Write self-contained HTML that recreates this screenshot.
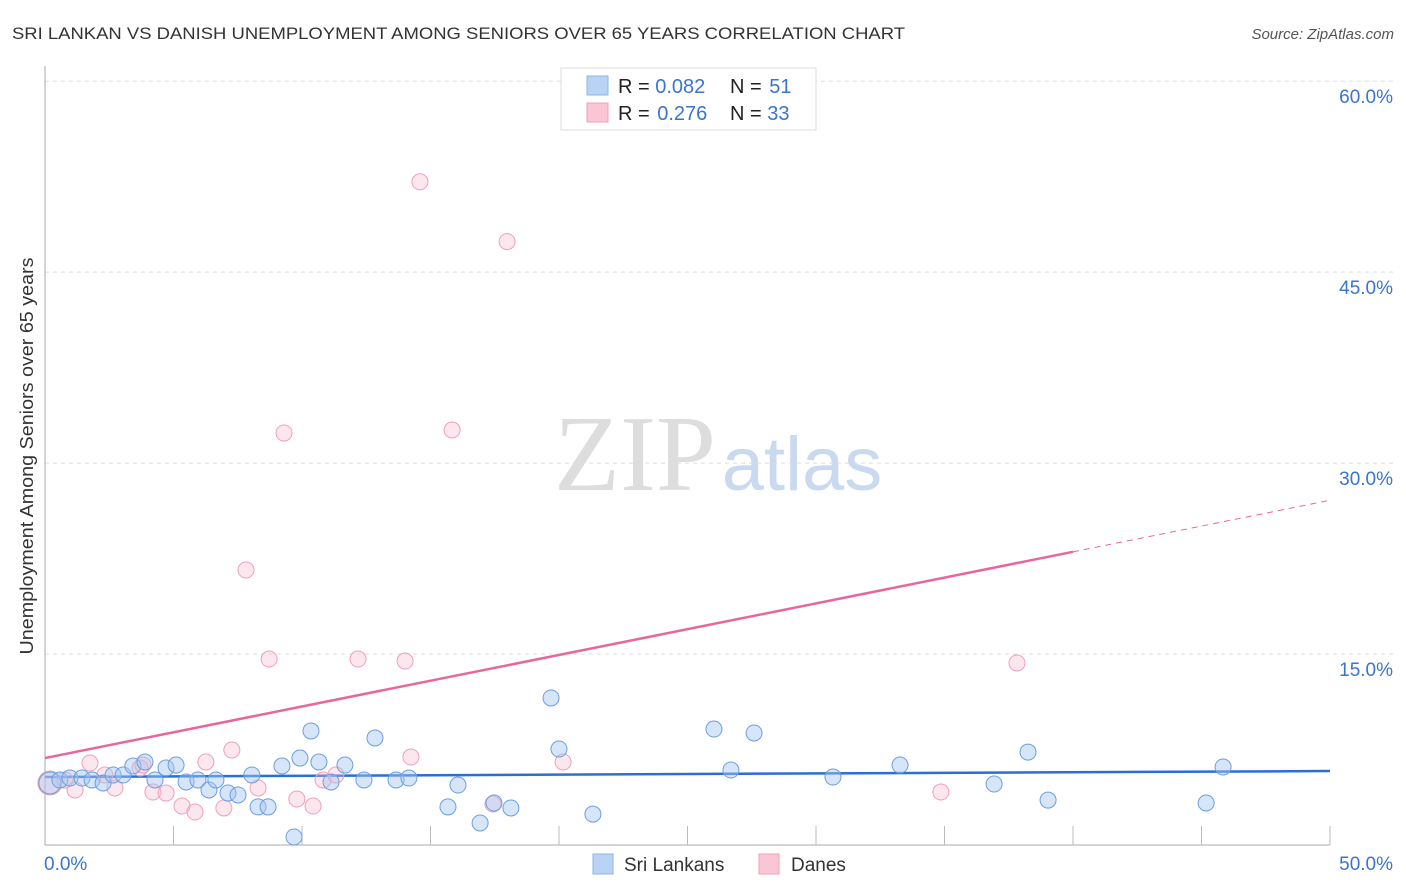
<!DOCTYPE html>
<html><head><meta charset="utf-8"><style>
body{margin:0;background:#fff;font-family:"Liberation Sans",sans-serif}
svg{display:block}
</style></head><body>
<svg id="chart" width="1406" height="892">
<text x="12" y="39" font-size="17" fill="#333" textLength="893" lengthAdjust="spacingAndGlyphs">SRI LANKAN VS DANISH UNEMPLOYMENT AMONG SENIORS OVER 65 YEARS CORRELATION CHART</text>
<text x="1394" y="39" font-size="15" fill="#555" font-style="italic" text-anchor="end">Source: ZipAtlas.com</text>
<text transform="translate(33,456) rotate(-90)" font-size="18" fill="#333" text-anchor="middle" textLength="397" lengthAdjust="spacingAndGlyphs">Unemployment Among Seniors over 65 years</text>
<g><text x="635" y="490" font-size="108" fill="#ddd" font-family="Liberation Serif,serif" text-anchor="middle">ZIP</text><text x="802" y="490" font-size="76" fill="#c9daf0" text-anchor="middle">atlas</text></g>
<g id="grid"></g><g id="axes"></g><g id="trend"></g><g id="pts"></g>
<g>
<rect x="561" y="68" width="255" height="62" fill="#fff" stroke="#ddd"/>
<rect x="587" y="76" width="21" height="19" fill="#b9d3f5" stroke="#8fb4e8"/>
<rect x="587" y="103" width="21" height="19" fill="#fac6d6" stroke="#f0a0ba"/>
<text x="618" y="93" font-size="20" fill="#222">R = <tspan fill="#3a74d0">0.082</tspan></text>
<text x="730" y="93" font-size="20" fill="#222">N = <tspan fill="#3a74d0" dx="2">51</tspan></text>
<text x="618" y="120" font-size="20" fill="#222">R = <tspan fill="#3a74d0" dx="2">0.276</tspan></text>
<text x="730" y="120" font-size="20" fill="#222">N = <tspan fill="#3a74d0">33</tspan></text>
</g>
<g>
<rect x="593" y="854" width="20" height="20" fill="#b9d3f5" stroke="#8fb4e8"/>
<text x="624" y="871" font-size="19" fill="#333">Sri Lankans</text>
<rect x="759" y="854" width="20" height="20" fill="#fac6d6" stroke="#f0a0ba"/>
<text x="791" y="871" font-size="19" fill="#333">Danes</text>
</g>
</svg>
<script>
const yTicks=[15,30,45,60];
const yTickLabels=["15.0%","30.0%","45.0%","60.0%"];
const xTickLabels=["0.0%","50.0%"];
const blueX=[0.19,0.58,0.97,1.44,1.83,2.26,2.65,3.04,3.42,3.89,4.28,4.71,5.1,5.49,5.95,6.38,6.65,7.12,7.51,8.05,8.29,8.68,9.22,9.69,9.92,10.35,10.66,11.13,11.67,12.41,12.84,13.66,14.16,15.68,16.07,16.93,17.47,18.13,19.69,20.0,21.32,26.03,26.69,27.59,30.66,33.27,36.93,38.25,39.03,45.18,45.84];
const blueY=[4.87,5.11,5.26,5.26,5.11,4.87,5.5,5.5,6.21,6.52,5.11,6.05,6.28,4.95,5.11,4.32,5.11,4.08,3.93,5.5,2.99,2.99,6.21,0.63,6.83,8.96,6.52,4.95,6.28,5.11,8.41,5.11,5.26,2.99,4.71,1.73,3.3,2.91,11.55,7.54,2.43,9.11,5.89,8.8,5.34,6.28,4.79,7.3,3.53,3.3,6.13];
const pinkX=[0.19,0.78,1.17,1.75,2.72,3.7,3.81,4.2,4.71,5.33,5.84,6.26,6.96,7.27,7.82,8.29,8.72,9.3,9.8,10.43,10.82,11.32,12.18,14.01,14.24,14.59,15.84,17.43,17.98,20.16,34.86,37.82,2.33];
const pinkY=[4.87,5.11,4.32,6.44,4.48,6.05,6.28,4.16,4.08,3.06,2.59,6.52,2.91,7.46,21.6,4.48,14.61,32.36,3.61,3.06,5.11,5.5,14.61,14.45,6.91,52.1,32.6,3.22,47.4,6.52,4.16,14.3,5.5];
const trendIntercept=[5.34,6.83];
const trendSlope=[0.0094,0.405];
const X0=45,X1=1330,Y0=845,PXX=25.7,PXY=12.73;
const sx=v=>X0+v*PXX, sy=v=>Y0-v*PXY;
const NS="http://www.w3.org/2000/svg";
function mk(p,t,a){const e=document.createElementNS(NS,t);for(const k in a)e.setAttribute(k,a[k]);p.appendChild(e);return e;}
const grid=document.getElementById('grid'),axes=document.getElementById('axes'),trend=document.getElementById('trend'),pts=document.getElementById('pts');
yTicks.forEach((t,i)=>{
 const l=mk(grid,'line',{x1:X0,x2:1394,y1:sy(t),y2:sy(t),stroke:'#ddd','stroke-dasharray':'4,4'});
 
 
 const tx=mk(grid,'text',{x:1393,y:sy(t)+22,'font-size':19,fill:'#3a74d0','text-anchor':'end'});tx.textContent=yTickLabels[i];
 
 
});
const ya=mk(axes,'line',{x1:X0,x2:X0,y1:66,y2:Y0,stroke:'#aaa'});


const xa=mk(axes,'line',{x1:X0,x2:X1,y1:Y0,y2:Y0,stroke:'#aaa'});


for(let i=1;i<=10;i++){const t=mk(axes,'line',{x1:sx(i*5),x2:sx(i*5),y1:Y0-19,y2:Y0,stroke:'#bbb'});
 
 }
const xl0=mk(axes,'text',{x:44,y:870,'font-size':19,fill:'#3a74d0'});xl0.textContent=xTickLabels[0];


const xl1=mk(axes,'text',{x:1393,y:870,'font-size':19,fill:'#3a74d0','text-anchor':'end'});xl1.textContent=xTickLabels[1];


function dot(x,y,fill,stroke,name,r){const c=mk(pts,'circle',{cx:sx(x),cy:sy(y),r:r||8,fill:fill,stroke:stroke,'stroke-width':1});
 
 }
pinkX.forEach((x,i)=>dot(x,pinkY[i],'rgba(248,185,205,0.35)','#f0a0ba','dane-point',i==0?12:8));
blueX.forEach((x,i)=>dot(x,blueY[i],'rgba(165,198,240,0.45)','#6b9fe0','sri-lankan-point',i==0?11:8));
const bt=mk(trend,'line',{x1:sx(0),y1:sy(trendIntercept[0]),x2:sx(50),y2:sy(trendIntercept[0]+50*trendSlope[0]),stroke:'#2a6fd4','stroke-width':2.5});


const pt=mk(trend,'line',{x1:sx(0),y1:sy(trendIntercept[1]),x2:sx(40),y2:sy(trendIntercept[1]+40*trendSlope[1]),stroke:'#e8679a','stroke-width':2.5});


const pd=mk(trend,'line',{x1:sx(40),y1:sy(trendIntercept[1]+40*trendSlope[1]),x2:sx(50),y2:sy(trendIntercept[1]+50*trendSlope[1]),stroke:'#e8679a','stroke-width':1,'stroke-dasharray':'6,5'});


</script>
</body></html>
